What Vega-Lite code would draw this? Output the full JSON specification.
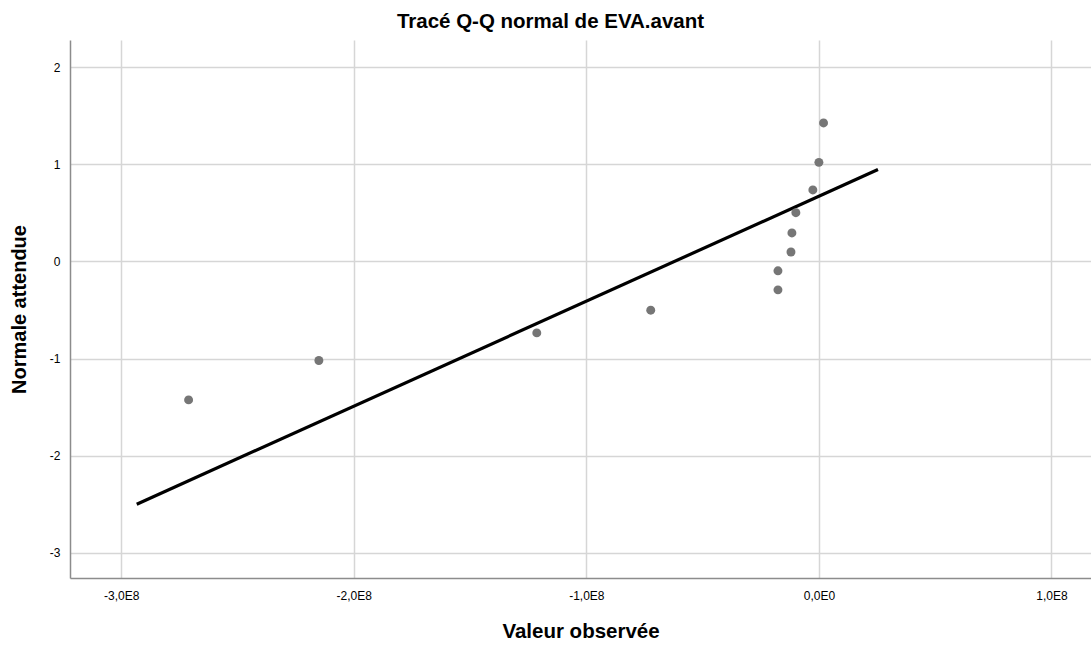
{
  "$schema": "https://vega.github.io/schema/vega-lite/v6.json",
  "width": 1021,
  "height": 538,
  "autosize": {"type": "none"},
  "padding": {"left": 70, "top": 40, "right": 0, "bottom": 67},
  "background": "white",
  "title": {
    "text": "Tracé Q-Q normal de EVA.avant",
    "font": "Liberation Sans",
    "fontSize": 20.5,
    "fontWeight": "bold",
    "color": "#000000",
    "anchor": "middle",
    "dx": -30,
    "offset": 8
  },
  "config": {
    "view": {"stroke": null},
    "font": "Liberation Sans"
  },
  "datasets": {
    "points": [
      {"observed": -271000000, "expected": -1.426},
      {"observed": -215000000, "expected": -1.020},
      {"observed": -121300000, "expected": -0.736},
      {"observed": -72300000, "expected": -0.502},
      {"observed": -17600000, "expected": -0.293},
      {"observed": -17600000, "expected": -0.097},
      {"observed": -12000000, "expected": 0.097},
      {"observed": -11600000, "expected": 0.293},
      {"observed": -9900000, "expected": 0.502},
      {"observed": -2600000, "expected": 0.736},
      {"observed": 0, "expected": 1.020},
      {"observed": 2000000, "expected": 1.426}
    ],
    "line": [
      {"observed": -293300000, "expected": -2.50},
      {"observed": 25400000, "expected": 0.946}
    ]
  },
  "layer": [
    {
      "data": {"name": "line"},
      "mark": {"type": "line", "color": "#000000", "strokeWidth": 3.2},
      "encoding": {
        "x": {
          "field": "observed",
          "type": "quantitative",
          "scale": {"domain": [-322000000, 117000000], "nice": false, "zero": false},
          "axis": {
            "title": "Valeur observée",
            "titleFont": "Liberation Sans",
            "titleFontSize": 20.5,
            "titleFontWeight": "bold",
            "titleColor": "#000000",
            "titlePadding": 20,
            "values": [-300000000, -200000000, -100000000, 0, 100000000],
            "labelExpr": "datum.value == 0 ? '0,0E0' : (datum.value < 0 ? '-' : '') + abs(round(datum.value / 100000000)) + ',0E8'",
            "labelFont": "Liberation Sans",
            "labelFontSize": 12,
            "labelColor": "#000000",
            "labelPadding": 12,
            "ticks": false,
            "domainColor": "#8c8c8c",
            "domainWidth": 1.5,
            "grid": true,
            "gridColor": "#d6d6d6",
            "gridWidth": 1.5
          }
        },
        "y": {
          "field": "expected",
          "type": "quantitative",
          "scale": {"domain": [-3.26, 2.28], "nice": false, "zero": false},
          "axis": {
            "title": "Normale attendue",
            "titleFont": "Liberation Sans",
            "titleFontSize": 20,
            "titleFontWeight": "bold",
            "titleColor": "#000000",
            "titlePadding": 20,
            "values": [-3, -2, -1, 0, 1, 2],
            "labelExpr": "datum.value < 0 ? '-' + abs(datum.value) : '' + datum.value",
            "labelFont": "Liberation Sans",
            "labelFontSize": 12,
            "labelColor": "#000000",
            "labelPadding": 10,
            "ticks": false,
            "domainColor": "#8c8c8c",
            "domainWidth": 1.5,
            "grid": true,
            "gridColor": "#d6d6d6",
            "gridWidth": 1.5
          }
        }
      }
    },
    {
      "data": {"name": "points"},
      "mark": {"type": "circle", "color": "#767676", "opacity": 1, "size": 80},
      "encoding": {
        "x": {"field": "observed", "type": "quantitative"},
        "y": {"field": "expected", "type": "quantitative"}
      }
    }
  ]
}
